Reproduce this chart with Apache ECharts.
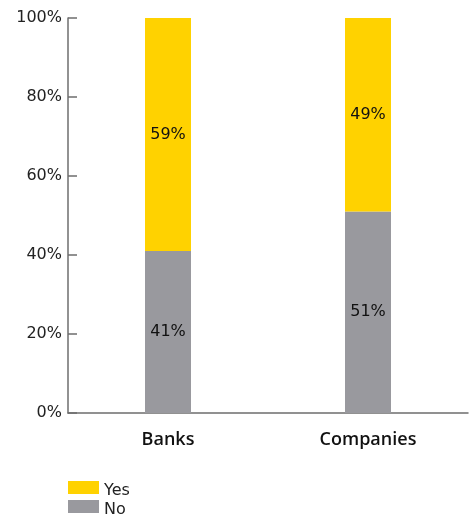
<!DOCTYPE html>
<html>
<head>
<meta charset="utf-8">
<script src="https://cdn.jsdelivr.net/npm/echarts@6/dist/echarts.min.js"></script>
<style>
  html, body { margin: 0; padding: 0; background: #fff; }
  #chart { width: 473px; height: 525px; }
</style>
</head>
<body>
<div id="chart"></div>
<script>
// Share of respondents answering yes / no, per group
const categories = ['Banks', 'Companies'];
const noValues = [41, 51];
const yesValues = [59, 49];
const yTicks = [0, 20, 40, 60, 80, 100];
const seriesNames = ['Yes', 'No'];

const fontFamily = '"DejaVu Sans", sans-serif';

// one legend entry per row, stacked below the chart
function legendRow(name, top) {
  return {
    left: 68,
    top: top,
    padding: 0,
    itemWidth: 31,
    itemHeight: 13,
    icon: 'rect',
    data: [name],
    selectedMode: false,
    formatter: '{t|{name}}',
    textStyle: {
      fontFamily: fontFamily,
      rich: { t: { fontSize: 16, color: '#222', fontFamily: fontFamily, padding: [7, 0, 0, 0] } }
    }
  };
}

const chart = echarts.init(document.getElementById('chart'));
chart.setOption({
  animation: false,
  textStyle: { fontFamily: fontFamily },
  grid: { left: 68, right: 5, top: 18, bottom: 112 },
  legend: [legendRow(seriesNames[0], 481), legendRow(seriesNames[1], 500)],
  xAxis: {
    type: 'category',
    data: categories,
    axisLine: { lineStyle: { color: '#6e6e6e', width: 1.5 } },
    axisTick: { show: false },
    axisLabel: { fontSize: 18, color: '#111', fontWeight: 600, margin: 18, fontFamily: '"Open Sans", sans-serif' }
  },
  yAxis: {
    type: 'value',
    min: yTicks[0],
    max: yTicks[yTicks.length - 1],
    interval: 20,
    splitLine: { show: false },
    axisLine: { show: true, lineStyle: { color: '#6e6e6e', width: 1.5 } },
    axisTick: { show: true, inside: true, length: 9, lineStyle: { color: '#6e6e6e', width: 1.5 } },
    axisLabel: {
      fontSize: 16, color: '#222', margin: 6, fontFamily: fontFamily,
      formatter: v => v + '%'
    }
  },
  series: [
    {
      name: seriesNames[1],
      type: 'bar',
      stack: 'total',
      data: noValues,
      barWidth: 46,
      itemStyle: { color: '#99999e' },
      label: { show: true, position: 'inside', fontSize: 16, color: '#111', fontFamily: fontFamily, formatter: p => p.value + '%' }
    },
    {
      name: seriesNames[0],
      type: 'bar',
      stack: 'total',
      data: yesValues,
      barWidth: 46,
      itemStyle: { color: '#ffd200' },
      label: { show: true, position: 'inside', fontSize: 16, color: '#111', fontFamily: fontFamily, formatter: p => p.value + '%' }
    }
  ]
});
</script>
</body>
</html>
